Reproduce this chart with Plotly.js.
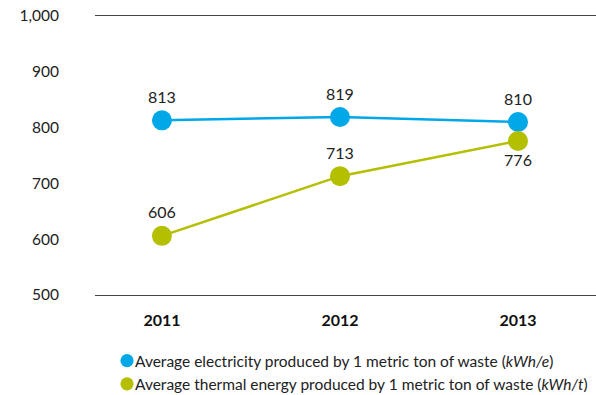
<!DOCTYPE html>
<html>
<head>
<meta charset="utf-8">
<script src="https://cdn.plot.ly/plotly-3.0.1.min.js"></script>
<style>
  html, body { margin: 0; padding: 0; background: #fff; }
  #chart { width: 596px; height: 395px; }
</style>
</head>
<body>
<div id="chart"></div>
<script>
// Yearly averages per metric ton of waste
const years = ['2011', '2012', '2013'];
const electricity = [813, 819, 810];   // kWh/e
const thermal = [606, 713, 776];       // kWh/t
const yTicks = [500, 600, 700, 800, 900, 1000];
const yTickText = ['500', '600', '700', '800', '900', '1,000'];

const electricityName = 'Average electricity produced by 1 metric ton of waste (<i>kWh/e</i>)';
const thermalName = 'Average thermal energy produced by 1 metric ton of waste (<i>kWh/t</i>)';

const blue = '#00a8e8';
const green = '#b4bf00';
const labelFont = { family: 'Lato, sans-serif', size: 16, color: '#222' };

// Each series: a connecting line, then the dots with their value labels
function lineTrace(y, color) {
  return {
    x: years, y: y, type: 'scatter', mode: 'lines',
    line: { color: color, width: 2.5 },
    showlegend: false, hoverinfo: 'skip'
  };
}
function dotTrace(y, color, name, positions) {
  return {
    x: years, y: y, type: 'scatter', mode: 'markers+text', name: name,
    marker: { color: color, size: 20 },
    text: y.map(String), textposition: positions,
    textfont: labelFont, cliponaxis: false
  };
}

const data = [
  lineTrace(electricity, blue),
  lineTrace(thermal, green),
  dotTrace(electricity, blue, electricityName, ['top center', 'top center', 'top center']),
  dotTrace(thermal, green, thermalName, ['top center', 'top center', 'bottom center'])
];

const layout = {
  width: 596, height: 395,
  margin: { l: 95, r: 0, t: 16, b: 100, autoexpand: false },
  paper_bgcolor: '#fff', plot_bgcolor: '#fff',
  font: { family: 'Lato, sans-serif', color: '#222' },
  xaxis: {
    type: 'category', range: [-0.376, 2.438],
    showgrid: false, zeroline: false,
    showline: true, mirror: true, linecolor: '#444', linewidth: 1,
    ticks: 'outside', ticklen: 11, tickcolor: 'rgba(0,0,0,0)',
    tickfont: { family: 'Lato, sans-serif', size: 16, color: '#111', weight: 'bold' },
    fixedrange: true
  },
  yaxis: {
    range: [500, 1000],
    tickvals: yTicks, ticktext: yTickText,
    showgrid: false, zeroline: false, showline: false,
    ticks: 'outside', ticklen: 32, tickcolor: 'rgba(0,0,0,0)',
    tickfont: { family: 'Lato, sans-serif', size: 15.5, color: '#222' },
    fixedrange: true
  },
  legend: {
    orientation: 'v', x: 0.024, xanchor: 'left', y: -0.176, yanchor: 'top',
    font: { family: 'Lato, sans-serif', size: 15.5, color: '#222' },
    itemsizing: 'constant', tracegroupgap: 0, bgcolor: 'rgba(0,0,0,0)'
  },
  showlegend: true
};

// Pull the legend labels in close to their dots
function tightenLegend(gd) {
  gd.querySelectorAll('.legend .legendtext').forEach(function (t) {
    t.setAttribute('x', 28);
  });
  gd.querySelectorAll('.legend .legendpoints path').forEach(function (p) {
    p.setAttribute('transform', (p.getAttribute('transform') || '') + ' scale(1.1)');
  });
}

Plotly.newPlot('chart', data, layout, { displayModeBar: false, staticPlot: true })
  .then(tightenLegend);
</script>
</body>
</html>
